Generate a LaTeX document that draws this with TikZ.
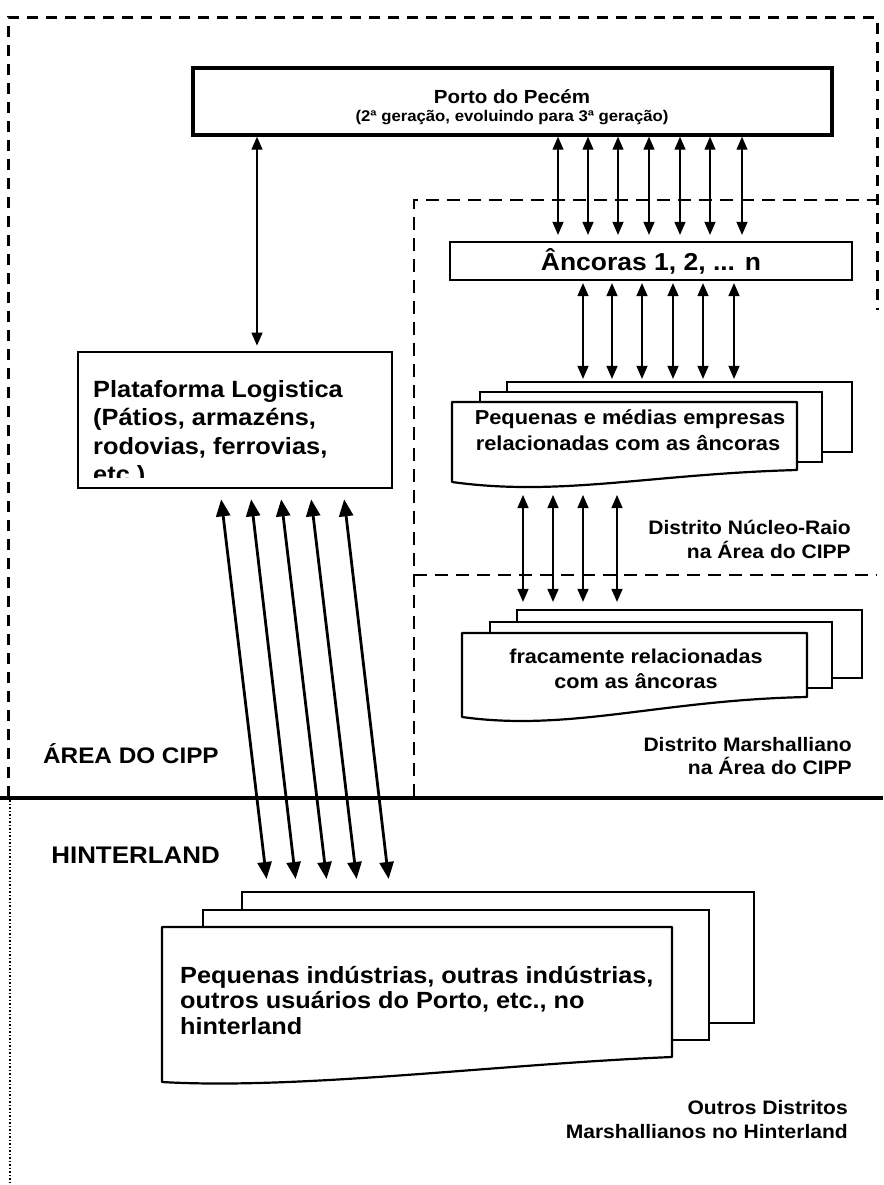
\documentclass[tikz,border=0pt]{standalone}
\usepackage{fontspec}
\setmainfont{Liberation Sans}[FakeStretch=1.08]
\usetikzlibrary{arrows.meta}

\newcommand\fsz[1]{\fontsize{#1}{#1}\selectfont}

\begin{document}
\begin{tikzpicture}[x=1pt,y=-1pt,
  every node/.style={inner sep=0pt},
  box/.style={draw, line width=#1, fill=white, rectangle},
  box/.default=2,
  layer/.style={draw, line width=2.2, fill=white, rectangle},
  txt/.style={anchor=base, font=\bfseries\fsz{#1}},
  link/.style={line width=1.4, {Triangle[length=13pt,width=11pt]}-{Triangle[length=13pt,width=11pt]}},
  fatlink/.style={line width=2.8, {Triangle[length=17pt,width=14pt]}-{Triangle[length=17pt,width=14pt]}},
  outerdash/.style={line width=3, dash pattern=on 11pt off 8pt},
  innerdash/.style={line width=2.2, dash pattern=on 13pt off 8pt},
  docshape/.style={draw, line width=2.2, fill=white, line join=round},
]
\useasboundingbox (0,0) rectangle (883,1185);
\fill[white] (0,0) rectangle (883,1185);

% region borders
\draw[outerdash] (8,797) -- (8,18) -- (877,18) -- (877,310);
\draw[line width=2, dash pattern=on 1.5pt off 2pt] (10,800) -- (10,1185);
\draw[innerdash] (414,797) -- (414,200) -- (877,200);
\draw[innerdash] (414,575) -- (877,575);
\draw[line width=3.2] (0,798) -- (883,798);

% port
\node[box=3.5, minimum width=639, minimum height=67] (porto) at (512.5,101.5) {};
\node[txt=19] (portoA) at (512,104) {Porto do Pecém};
\node[txt=15.5] (portoB) at (512,122) {(2ª geração, evoluindo para 3ª geração)};

% anchors
\node[box=2.2, minimum width=402, minimum height=38, font=\bfseries\fsz{24.5}] (anc) at (651,261) {Âncoras 1, 2, ... n};

% logistics platform
\node[box=2.8, minimum width=314, minimum height=136] (plat) at (235,420) {};
\begin{scope}
  \clip (80,354) rectangle (390,477);
  \node[txt=23.5, anchor=base west] (platA) at (93,397) {Plataforma Logistica};
  \node[txt=23.5, anchor=base west] (platB) at (93,425.5) {(Pátios, armazéns,};
  \node[txt=23.5, anchor=base west] (platC) at (93,454) {rodovias, ferrovias,};
  \node[txt=23.5, anchor=base west] (platD) at (93,482.5) {etc.)};
\end{scope}

% small and medium firms (stack)
\node[layer, minimum width=345, minimum height=70] (peqC) at (679.5,417) {};
\node[layer, minimum width=342, minimum height=70] (peqB) at (651,427) {};
\draw[docshape] (452,402) -- (797,402) -- (797,470)
  .. controls (650,474) and (560,497) .. (452,482) -- cycle;
\node[txt=20.2] (peqT1) at (630,424) {Pequenas e médias empresas};
\node[txt=20.2] (peqT2) at (628,450) {relacionadas com as âncoras};
\coordinate (peqbot) at (452,495);

% weakly related firms (stack)
\node[layer, minimum width=345, minimum height=68] (fracC) at (689.5,644) {};
\node[layer, minimum width=342, minimum height=66] (fracB) at (661,655) {};
\draw[docshape] (462,633) -- (807,633) -- (807,697)
  .. controls (660,700) and (570,732) .. (462,717) -- cycle;
\node[txt=20] (fracT1) at (636,663) {fracamente relacionadas};
\node[txt=20] (fracT2) at (636,688) {com as âncoras};

% hinterland firms (stack)
\node[layer, minimum width=512, minimum height=131] (hintC) at (498,957.5) {};
\node[layer, minimum width=506, minimum height=130] (hintB) at (456,975) {};
\draw[docshape] (162,927) -- (672,927) -- (672,1057)
  .. controls (500,1064) and (300,1090) .. (162,1082) -- cycle;
\node[txt=23.4, anchor=base west] (hintT1) at (180,983) {Pequenas indústrias, outras indústrias,};
\node[txt=23.4, anchor=base west] (hintT2) at (180,1008.5) {outros usuários do Porto, etc., no};
\node[txt=23.4, anchor=base west] (hintT3) at (180,1034) {hinterland};

% region labels
\node[txt=19.5, anchor=base east] (nucA) at (851,534) {Distrito Núcleo-Raio};
\node[txt=19.5, anchor=base east] (nucB) at (851,558) {na Área do CIPP};
\node[txt=19.5, anchor=base east] (marA) at (852,751) {Distrito Marshalliano};
\node[txt=19.5, anchor=base east] (marB) at (852,774) {na Área do CIPP};
\node[txt=19.5, anchor=base east] (outA) at (848,1114) {Outros Distritos};
\node[txt=19.5, anchor=base east] (outB) at (848,1138) {Marshallianos no Hinterland};
\node[txt=22.5, anchor=base west] (area) at (43,763) {ÁREA DO CIPP};
\node[txt=24, anchor=base east] (hint) at (220,863) {HINTERLAND};

% connectors
\path (257,0) coordinate (cx);
\draw[link, shorten >=5pt] (porto.south -| cx) -- (plat.north -| cx);

\foreach \x in {558,588,618,649,680,710,742}{
  \path (\x,0) coordinate (cx);
  \draw[link, shorten >=6pt] (porto.south -| cx) -- (anc.north -| cx);
}
\foreach \x in {583,612,642,673,703,734}{
  \path (\x,0) coordinate (cx);
  \draw[link, shorten <=2pt, shorten >=2pt] (anc.south -| cx) -- (peqC.north -| cx);
}
\foreach \x in {523,553,583,617}{
  \path (\x,0) coordinate (cx);
  \draw[link, shorten >=7pt] (peqbot -| cx) -- (fracC.north -| cx);
}
\foreach \a/\b in {220/268,250/297,280/328,310/358,343/390}{
  \path (\a,0) coordinate (ca) (\b,0) coordinate (cb);
  \draw[fatlink, shorten <=10pt, shorten >=12pt] (plat.south -| ca) -- (hintC.north -| cb);
}
\end{tikzpicture}
\end{document}
